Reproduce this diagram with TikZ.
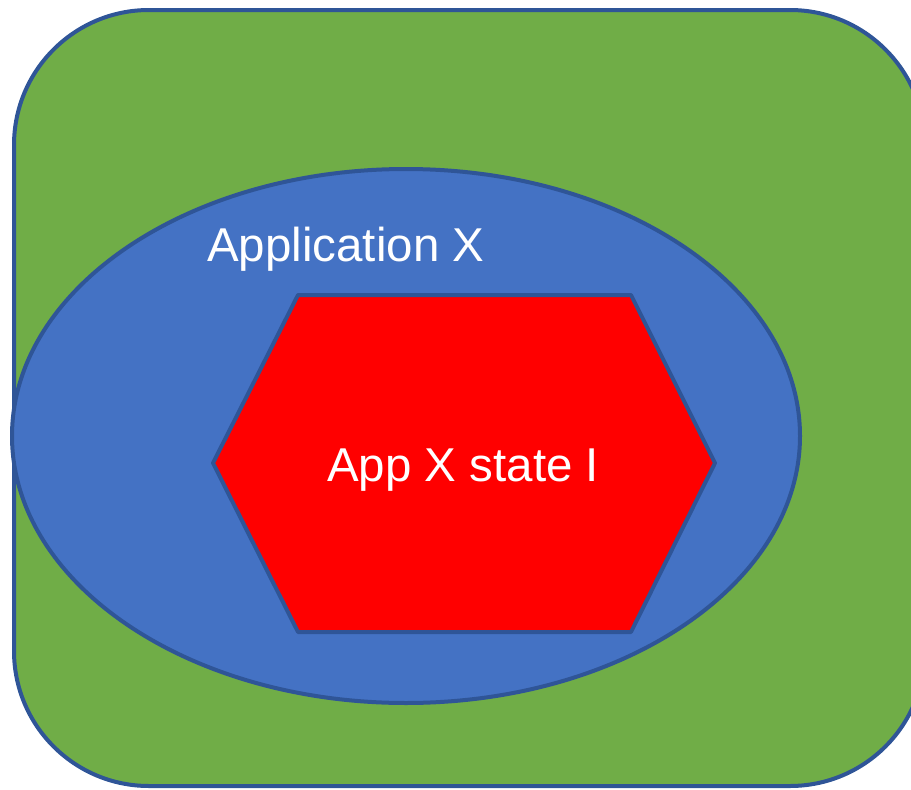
\documentclass[tikz,border=0pt]{standalone}
\usepackage{fontspec}
\setmainfont{Liberation Sans}
\definecolor{boxgreen}{HTML}{70AD47}
\definecolor{appblue}{HTML}{4472C4}
\definecolor{edgeblue}{HTML}{2F5597}
\definecolor{statered}{HTML}{FF0000}
\tikzset{
  outline/.style={draw=edgeblue, line width=4pt, line join=round},
  label/.style={text=white, font=\fontsize{47.5}{52}\selectfont, inner sep=0pt}
}
\begin{document}
\begin{tikzpicture}[x=1pt, y=-1pt]
  \useasboundingbox (0,0) rectangle (911,790);
  \clip (0,0) rectangle (911,790);
  % outer environment
  \draw[outline, fill=boxgreen, rounded corners=135pt] (14,10) rectangle (925,786);
  % application
  \draw[outline, fill=appblue] (406,436) ellipse [x radius=394, y radius=267];
  \node[label, anchor=base west] (app) at (207,261) {Application X};
  % application state
  \coordinate (h1) at (298,295);
  \coordinate (h2) at (631,295);
  \coordinate (h3) at (715,463);
  \coordinate (h4) at (631,632);
  \coordinate (h5) at (298,632);
  \coordinate (h6) at (213,463);
  \draw[outline, fill=statered] (h1) -- (h2) -- (h3) -- (h4) -- (h5) -- (h6) -- cycle;
  \node[label, anchor=base west] (state) at (327,481) {App X state I};
\end{tikzpicture}
\end{document}
